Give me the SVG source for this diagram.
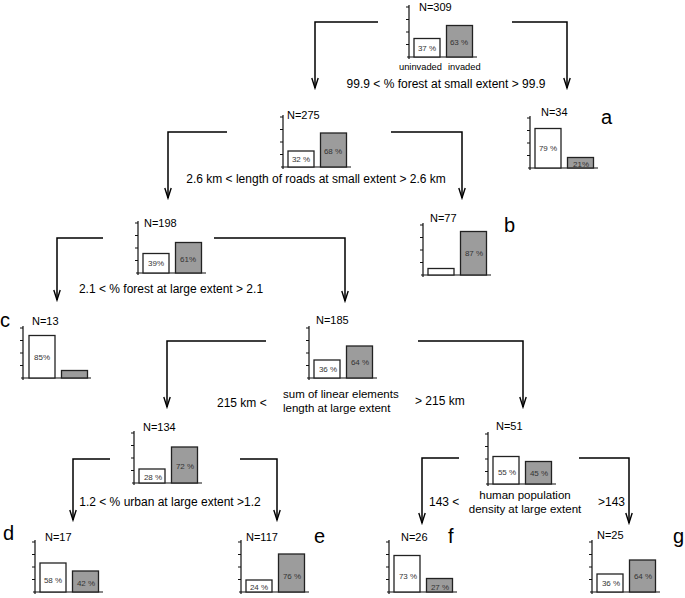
<svg xmlns="http://www.w3.org/2000/svg" width="685" height="598" viewBox="0 0 685 598">
<style>
text{font-family:"Liberation Sans",Arial,sans-serif;fill:#000}
.cond{font-size:12px}
.two{font-size:11.5px}
.n{font-size:11px}
.p{font-size:8px;fill:#333;text-anchor:middle}
.lab{font-size:20px}
.ax{stroke:#111;stroke-width:1.2;fill:none}
.w{fill:#fff;stroke:#222;stroke-width:1.3}
.g{fill:#9c9c9c;stroke:#222;stroke-width:1.3}
.con{fill:none;stroke:#000;stroke-width:1.5;marker-end:url(#v)}
</style>
<defs>
<marker id="v" viewBox="-12 -5 14 10" refX="0" refY="0" markerWidth="14" markerHeight="10" markerUnits="userSpaceOnUse" orient="auto">
<path d="M-10,-3.2 L0,0 L-10,3.2" fill="none" stroke="#000" stroke-width="1.4"/>
</marker>
<g id="axes">
<path class="ax" d="M0,2 V-52 M-3,-50 H0 M-3,-37.5 H0 M-3,-25 H0 M-3,-12.5 H0 M-2,0 H68"/>
</g>
</defs>
<rect width="685" height="598" fill="#fff"/>

<g id="connectors">
<path class="con" d="M378,22 H315 V88"/>
<path class="con" d="M512,22 H567 V88"/>
<path class="con" d="M227,132 H168 V198"/>
<path class="con" d="M391,132 H462 V198"/>
<path class="con" d="M103,238 H57 V300"/>
<path class="con" d="M214,238 H345 V301"/>
<path class="con" d="M266,341 H167 V407"/>
<path class="con" d="M418,341 H523 V407"/>
<path class="con" d="M110,459 H73 V520"/>
<path class="con" d="M240,459 H277 V520"/>
<path class="con" d="M459,458 H422 V523"/>
<path class="con" d="M579,458 H629 V523"/>
</g>

<g id="n309">
<use href="#axes" transform="translate(409,57)"/>
<rect class="w" x="414" y="38.5" width="26" height="18.5"/>
<rect class="g" x="446.5" y="25.5" width="26" height="31.5"/>
<text class="n" x="419" y="11">N=309</text>
<text class="p" x="427" y="51">37 %</text>
<text class="p" x="459" y="45">63 %</text>
<text x="399" y="70" style="font-size:9.3px">uninvaded</text>
<text x="448" y="70" style="font-size:9.3px">invaded</text>
<text class="cond" x="446" y="88" text-anchor="middle">99.9 &lt; % forest at small extent &gt; 99.9</text>
</g>

<g id="n275">
<use href="#axes" transform="translate(283,167)"/>
<rect class="w" x="288" y="151" width="26" height="16"/>
<rect class="g" x="320.5" y="133" width="26" height="34"/>
<text class="n" x="287" y="119">N=275</text>
<text class="p" x="301" y="162">32 %</text>
<text class="p" x="333" y="154">68 %</text>
<text class="cond" x="316" y="183" text-anchor="middle">2.6 km &lt; length of roads at small extent &gt; 2.6 km</text>
</g>

<g id="n34">
<use href="#axes" transform="translate(530,168)"/>
<rect class="w" x="535" y="128.5" width="26" height="39.5"/>
<rect class="g" x="567.5" y="157.5" width="26" height="10.5"/>
<text class="n" x="541" y="116">N=34</text>
<text class="p" x="548" y="151">79 %</text>
<text class="p" x="581" y="166.5">21%</text>
<text class="lab" x="601" y="124">a</text>
</g>

<g id="n198">
<use href="#axes" transform="translate(138,273)"/>
<rect class="w" x="143" y="253.5" width="26" height="19.5"/>
<rect class="g" x="175.5" y="242.5" width="26" height="30.5"/>
<text class="n" x="144" y="227">N=198</text>
<text class="p" x="156" y="266">39%</text>
<text class="p" x="188" y="262">61%</text>
<text class="cond" x="171" y="293" text-anchor="middle">2.1 &lt; % forest at large extent &gt; 2.1</text>
</g>

<g id="n77">
<use href="#axes" transform="translate(423,275)"/>
<rect class="w" x="428" y="268.5" width="26" height="6.5"/>
<rect class="g" x="460.5" y="231.5" width="26" height="43.5"/>
<text class="n" x="430" y="222">N=77</text>
<text class="p" x="474" y="256">87 %</text>
<text class="lab" x="504" y="232">b</text>
</g>

<g id="n13">
<use href="#axes" transform="translate(23,378)"/>
<rect class="w" x="29" y="335.5" width="26" height="42.5"/>
<rect class="g" x="61.5" y="370.5" width="26" height="7.5"/>
<text class="n" x="32" y="325">N=13</text>
<text class="p" x="42" y="360">85%</text>
<text class="lab" x="0" y="327">c</text>
</g>

<g id="n185">
<use href="#axes" transform="translate(309,378)"/>
<rect class="w" x="314" y="360" width="26" height="18"/>
<rect class="g" x="346.5" y="346" width="26" height="32"/>
<text class="n" x="316" y="324">N=185</text>
<text class="p" x="328" y="372">36 %</text>
<text class="p" x="360" y="365">64 %</text>
<text class="cond" x="217" y="407">215 km &lt;</text>
<text class="cond two" x="283" y="398">sum of linear elements</text>
<text class="cond two" x="283" y="411.5">length at large extent</text>
<text class="cond" x="415" y="405">&gt; 215 km</text>
</g>

<g id="n134">
<use href="#axes" transform="translate(134,483)"/>
<rect class="w" x="139" y="469" width="26" height="14"/>
<rect class="g" x="171.5" y="447" width="26" height="36"/>
<text class="n" x="143" y="431">N=134</text>
<text class="p" x="153" y="480">28 %</text>
<text class="p" x="185" y="469">72 %</text>
<text class="cond" x="170" y="506" text-anchor="middle">1.2 &lt; % urban at large extent &gt;1.2</text>
</g>

<g id="n51">
<use href="#axes" transform="translate(488,484)"/>
<rect class="w" x="493" y="456.5" width="26" height="27.5"/>
<rect class="g" x="525.5" y="461.5" width="26" height="22.5"/>
<text class="n" x="496" y="430">N=51</text>
<text class="p" x="507" y="475">55 %</text>
<text class="p" x="539" y="476">45 %</text>
<text class="cond two" x="525" y="499" text-anchor="middle">human population</text>
<text class="cond two" x="525" y="512.5" text-anchor="middle">density at large extent</text>
<text class="cond" x="429" y="506">143 &lt;</text>
<text class="cond" x="598" y="506">&gt;143</text>
</g>

<g id="n17">
<use href="#axes" transform="translate(35,592)"/>
<rect class="w" x="40" y="563" width="26" height="29"/>
<rect class="g" x="72.5" y="571" width="26" height="21"/>
<text class="n" x="45" y="541">N=17</text>
<text class="p" x="53" y="583">58 %</text>
<text class="p" x="86" y="586">42 %</text>
<text class="lab" x="3" y="540">d</text>
</g>

<g id="n117">
<use href="#axes" transform="translate(241,592)"/>
<rect class="w" x="246" y="580" width="26" height="12"/>
<rect class="g" x="278.5" y="554" width="26" height="38"/>
<text class="n" x="246" y="541">N=117</text>
<text class="p" x="259" y="590">24 %</text>
<text class="p" x="292" y="579">76 %</text>
<text class="lab" x="314" y="543">e</text>
</g>

<g id="n26">
<use href="#axes" transform="translate(389,592)"/>
<rect class="w" x="394" y="555.5" width="26" height="36.5"/>
<rect class="g" x="426.5" y="578.5" width="26" height="13.5"/>
<text class="n" x="401" y="541">N=26</text>
<text class="p" x="408" y="579">73 %</text>
<text class="p" x="440" y="589.5">27 %</text>
<text class="lab" x="448" y="543">f</text>
</g>

<g id="n25">
<use href="#axes" transform="translate(592,592)"/>
<rect class="w" x="597" y="574" width="26" height="18"/>
<rect class="g" x="629.5" y="560" width="26" height="32"/>
<text class="n" x="597" y="539">N=25</text>
<text class="p" x="611" y="586">36 %</text>
<text class="p" x="643" y="579">64 %</text>
<text class="lab" x="673" y="543">g</text>
</g>
</svg>
